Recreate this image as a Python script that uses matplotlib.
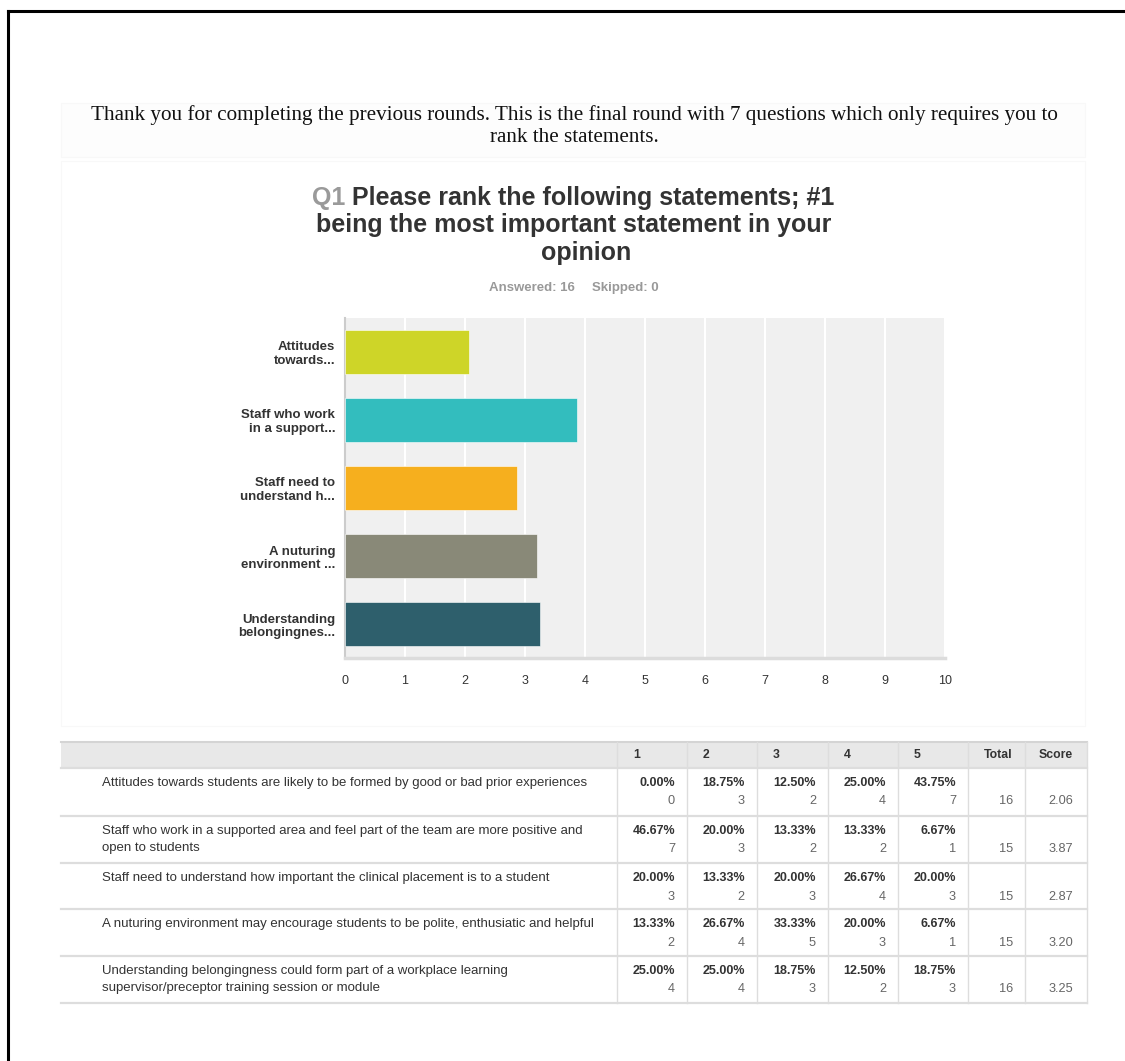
import matplotlib.pyplot as plt
from matplotlib.patches import Rectangle

# chart data
bar_labels = ["Attitudes\ntowards...", "Staff who work\nin a support...", "Staff need to\nunderstand h...",
              "A nuturing\nenvironment ...", "Understanding\nbelongingnes..."]
scores = [2.06, 3.87, 2.87, 3.20, 3.25]
bar_colors = ["#CED528", "#33BDBE", "#F6AF1E", "#898978", "#2E5F6C"]
x_ticks = list(range(0, 11))

# table data
statements = [
    "Attitudes towards students are likely to be formed by good or bad prior experiences",
    "Staff who work in a supported area and feel part of the team are more positive and\nopen to students",
    "Staff need to understand how important the clinical placement is to a student",
    "A nuturing environment may encourage students to be polite, enthusiatic and helpful",
    "Understanding belongingness could form part of a workplace learning\nsupervisor/preceptor training session or module",
]
rank_headers = ["1", "2", "3", "4", "5"]
percents = [
    ["0.00%", "18.75%", "12.50%", "25.00%", "43.75%"],
    ["46.67%", "20.00%", "13.33%", "13.33%", "6.67%"],
    ["20.00%", "13.33%", "20.00%", "26.67%", "20.00%"],
    ["13.33%", "26.67%", "33.33%", "20.00%", "6.67%"],
    ["25.00%", "25.00%", "18.75%", "12.50%", "18.75%"],
]
counts = [
    [0, 3, 2, 4, 7],
    [7, 3, 2, 2, 1],
    [3, 2, 3, 4, 3],
    [2, 4, 5, 3, 1],
    [4, 4, 3, 2, 3],
]
totals = [16, 15, 15, 15, 16]
score_text = ["2.06", "3.87", "2.87", "3.20", "3.25"]

W, H = 1125, 1061
fig = plt.figure(figsize=(W / 100, H / 100), dpi=100)
plt.rcParams['font.family'] = ['Liberation Sans', 'DejaVu Sans']

# page layer in pixel coordinates
page = fig.add_axes([0, 0, 1, 1])
page.set_xlim(0, W)
page.set_ylim(H, 0)
page.axis('off')

# frame lines of the screenshot
page.plot([8, W], [11, 11], color='black', lw=2.2)
page.plot([8, 8], [11, H], color='black', lw=2.2)

# faint boxes behind the intro text and chart
page.add_patch(Rectangle((61, 103), 1024, 54, facecolor='#fdfdfd', edgecolor='#f8f8f8', lw=0.8))
page.add_patch(Rectangle((61, 161), 1024, 565, facecolor='none', edgecolor='#f8f8f8', lw=0.8))

page.text(574, 115, "Thank you for completing the previous rounds. This is the final round with 7 questions which only requires you to",
          ha='center', va='center', fontsize=15.2, family='Liberation Serif', color='#111111')
page.text(574, 138, "rank the statements.", ha='center', va='center', fontsize=15.2,
          family='Liberation Serif', color='#111111')

# title, first word in grey
fig.canvas.draw()
renderer = fig.canvas.get_renderer()
tsize = 18
line1 = "Q1 Please rank the following statements; #1"
tmp = page.text(573, 198, line1, ha='center', va='center', fontsize=tsize, fontweight='bold')
bb = tmp.get_window_extent(renderer)
tmp.remove()
q = page.text(0, 0, "Q1 ", fontsize=tsize, fontweight='bold')
qw = q.get_window_extent(renderer).width
q.remove()
x_left = bb.x0
page.text(x_left, 198, "Q1", ha='left', va='center', fontsize=tsize, fontweight='bold', color='#9a9a9a')
page.text(x_left + qw, 198, "Please rank the following statements; #1", ha='left', va='center',
          fontsize=tsize, fontweight='bold', color='#333333')
page.text(574, 225, "being the most important statement in your", ha='center', va='center',
          fontsize=tsize, fontweight='bold', color='#333333')
page.text(586, 253, "opinion", ha='center', va='center', fontsize=tsize, fontweight='bold', color='#333333')

page.text(489, 288, "Answered: 16", ha='left', va='center', fontsize=9.5, fontweight='bold', color='#999999')
page.text(592, 288, "Skipped: 0", ha='left', va='center', fontsize=9.5, fontweight='bold', color='#999999')

# bar chart
ax = fig.add_axes([345 / W, 1 - 658 / H, 600 / W, 340 / H])
ax.set_facecolor('#f0f0f0')
ypos = list(range(len(scores)))
ax.barh(ypos, scores, height=0.66, color=bar_colors, edgecolor='white', linewidth=0.4, zorder=3)
ax.set_xlim(0, 10)
ax.set_ylim(len(scores) - 0.5, -0.5)
ax.set_xticks(x_ticks)
ax.set_xticklabels([str(t) for t in x_ticks], fontsize=9, color='#333333')
ax.set_yticks(ypos)
ax.set_yticklabels(bar_labels, fontsize=9.5, fontweight='bold', color='#333333', linespacing=1.2)
ax.tick_params(axis='both', length=0)
ax.tick_params(axis='x', pad=12)
ax.tick_params(axis='y', pad=7)
ax.grid(axis='x', color='white', lw=1.5, zorder=1)
for s in ['top', 'right']:
    ax.spines[s].set_visible(False)
ax.spines['left'].set_color('#cccccc')
ax.spines['left'].set_linewidth(1.5)
ax.spines['bottom'].set_color('#dcdcdc')
ax.spines['bottom'].set_linewidth(2.5)

# table
col_edges = [61, 617, 687, 757, 828, 898, 968, 1025, 1087]
row_edges = [768, 816, 863, 909, 956, 1003]
head_top = 742

page.add_patch(Rectangle((61, head_top), 1087 - 61, row_edges[0] - head_top,
                         facecolor='#e8e8e8', edgecolor='none'))
page.plot([61, 1087], [head_top, head_top], color='#d4d4d4', lw=1.5)
for y in row_edges:
    page.plot([61, 1087], [y, y], color='#dddddd', lw=1.6)
for x in col_edges[1:]:
    page.plot([x, x], [head_top, row_edges[-1]], color='#dddddd', lw=1.0)

head_y = (head_top + row_edges[0]) / 2
for i, h in enumerate(rank_headers):
    page.text(col_edges[i + 1] + 16, head_y, h, ha='left', va='center', fontsize=8.8,
              fontweight='bold', color='#333333')
page.text(col_edges[7] - 13, head_y, "Total", ha='right', va='center', fontsize=8.8,
          fontweight='bold', color='#333333')
page.text(col_edges[8] - 14, head_y, "Score", ha='right', va='center', fontsize=8.8,
          fontweight='bold', color='#333333')

for r in range(len(statements)):
    top = row_edges[r]
    y1 = top + 15
    y2 = top + 33.5
    for k, ln in enumerate(statements[r].split("\n")):
        page.text(102, y1 + k * 17, ln, ha='left', va='center', fontsize=9.5, color='#333333')
    for c in range(5):
        xr = col_edges[c + 2] - 12
        page.text(xr, y1, percents[r][c], ha='right', va='center', fontsize=9,
                  fontweight='bold', color='#333333')
        page.text(xr, y2, str(counts[r][c]), ha='right', va='center', fontsize=9.2, color='#666666')
    page.text(col_edges[7] - 12, y2, str(totals[r]), ha='right', va='center', fontsize=9.2, color='#666666')
    page.text(col_edges[8] - 14, y2, score_text[r], ha='right', va='center', fontsize=9.2, color='#666666')

fig.savefig("out.png", dpi=100)
